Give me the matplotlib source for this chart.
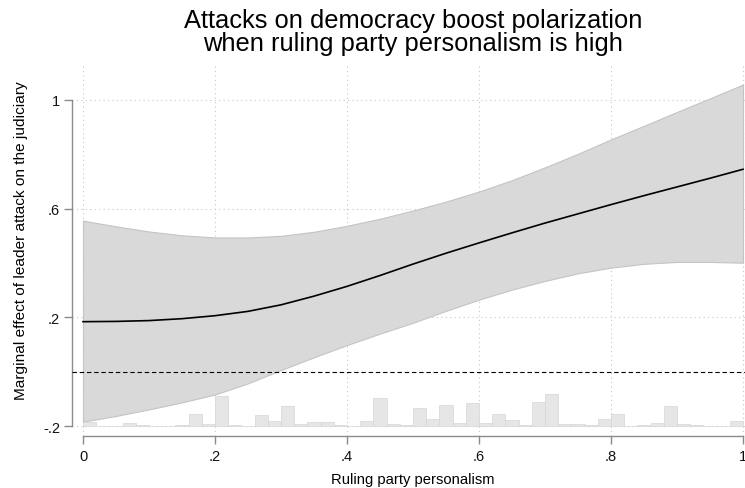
import matplotlib
matplotlib.use("Agg")
import matplotlib.pyplot as plt
import numpy as np

plt.rcParams['font.family'] = ['Liberation Sans', 'DejaVu Sans']

# marginal effect and 95% CI, read at steps of .05 of personalism
pers = [0.00, 0.05, 0.10, 0.15, 0.20, 0.25, 0.30, 0.35, 0.40, 0.45, 0.50,
        0.55, 0.60, 0.65, 0.70, 0.75, 0.80, 0.85, 0.90, 0.95, 1.00]
effect = [0.184, 0.185, 0.188, 0.195, 0.206, 0.222, 0.246, 0.278, 0.314, 0.354, 0.396,
          0.436, 0.474, 0.511, 0.547, 0.581, 0.615, 0.648, 0.680, 0.712, 0.745]
ci_hi = [0.556, 0.535, 0.516, 0.502, 0.494, 0.494, 0.500, 0.515, 0.537, 0.563, 0.593,
         0.626, 0.663, 0.705, 0.752, 0.802, 0.855, 0.905, 0.956, 1.006, 1.057]
ci_lo = [-0.184, -0.163, -0.139, -0.113, -0.084, -0.043, 0.006, 0.053, 0.098, 0.140, 0.180,
         0.224, 0.265, 0.302, 0.334, 0.362, 0.383, 0.397, 0.404, 0.404, 0.401]

# distribution of personalism (50 bins of width .02), relative heights
hist_freq = [4, 0, 0, 3, 1.5, 0, 0, 1.5, 12, 2,
             30, 1.5, 0, 11, 5, 20, 2, 4, 4, 1.5,
             0.5, 5, 28, 2, 1.5, 18, 7, 21, 3.5, 23,
             3.5, 12, 6, 1.5, 24, 32, 2, 2, 1.5, 7,
             12, 0, 1, 3, 20, 2, 1, 0, 0, 5]
hist_scale = 1 / 272.0
hist_base = -0.2

xticks = [0, 0.2, 0.4, 0.6, 0.8, 1]
xlabels = ['0', '.2', '.4', '.6', '.8', '1']
yticks = [-0.2, 0.2, 0.6, 1]
ylabels = ['-.2', '.2', '.6', '1']

fig = plt.figure(figsize=(7.45, 4.89), dpi=100)
ax = fig.add_axes([72/745, 1-437/489, 673/745, 373/489])

ax.fill_between(pers, ci_lo, ci_hi, facecolor='#d9d9d9', edgecolor='#c4c4c4',
                linewidth=0.8, zorder=2)

edges = np.arange(len(hist_freq)) * 0.02
ax.bar(edges, np.array(hist_freq) * hist_scale, width=0.02, bottom=hist_base,
       align='edge', color='#e6e6e6', edgecolor='#d6d6d6', linewidth=0.5, zorder=3)

ax.plot(pers, effect, color='black', linewidth=1.2, zorder=4)
ax.axhline(0, color='black', linestyle=(0, (4, 2.5)), linewidth=0.8, zorder=4)

ax.set_xlim(-11/660, 1 + 2/660)
ax.set_ylim(-0.2 - 10/271.67, 1 + 37/271.67)

ax.set_xticks(xticks)
ax.set_xticklabels(xlabels)
ax.set_yticks(yticks)
ax.set_yticklabels(ylabels)
ax.grid(True, color='#c8c8c8', linestyle=(0, (1, 3)), linewidth=0.8, zorder=0)
ax.set_axisbelow(True)

for s in ['top', 'right']:
    ax.spines[s].set_visible(False)
for s in ['left', 'bottom']:
    ax.spines[s].set_color('#8c8c8c')
    ax.spines[s].set_linewidth(1.0)
ax.spines['left'].set_bounds(-0.2, 1)
ax.spines['bottom'].set_bounds(0, 1)
ax.tick_params(axis='both', color='#8c8c8c', length=5.5, width=1.0,
               labelsize=10.5, labelcolor='#111111')
ax.tick_params(axis='x', pad=4)
ax.tick_params(axis='y', pad=3)

ax.set_xlabel('Ruling party personalism', fontsize=10.6)
ax.set_ylabel('Marginal effect of leader attack on the judiciary', fontsize=11.1)
ax.xaxis.set_label_coords(341/673, -36/373)
ax.yaxis.set_label_coords(-44/673, 0.5 + 10/373)

fig.text(413/745, 1-32.5/489, 'Attacks on democracy boost polarization\nwhen ruling party personalism is high',
         ha='center', va='center', fontsize=18.4, linespacing=0.93)

fig.savefig('out.png', dpi=100)
